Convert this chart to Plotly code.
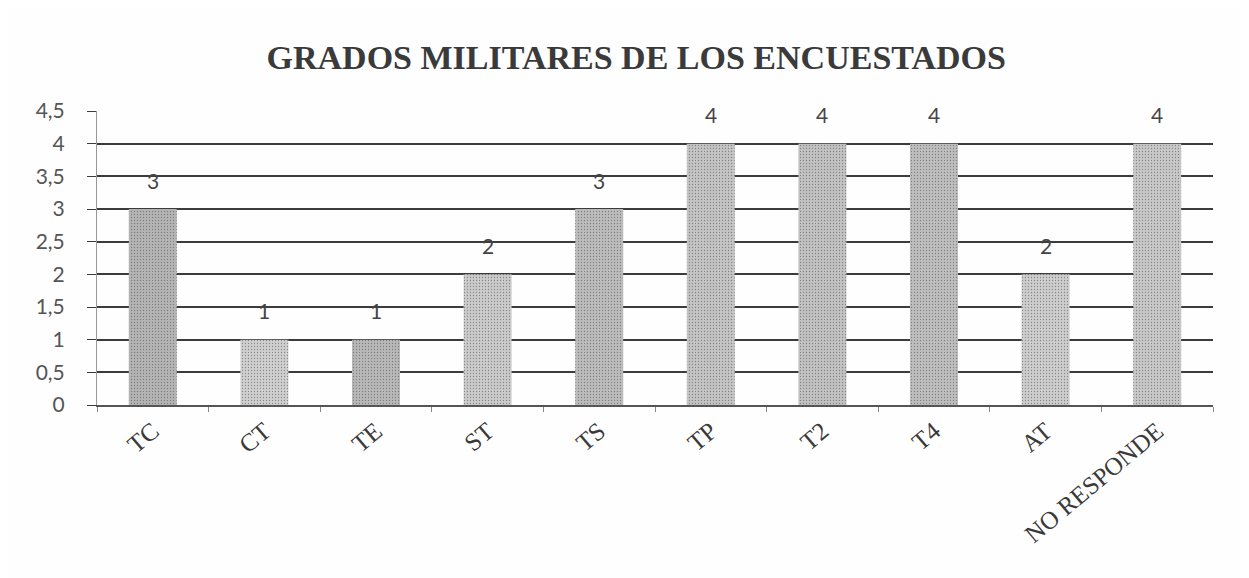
import plotly.graph_objects as go

grados = ["TC", "CT", "TE", "ST", "TS", "TP", "T2", "T4", "AT", "NO RESPONDE"]
encuestados = [3, 1, 1, 2, 3, 4, 4, 4, 2, 4]
bar_colors = ["#b4b4b4", "#cfcfcf", "#b8b8b8", "#cbcbcb", "#bcbcbc",
              "#c4c4c4", "#c2c2c2", "#bebebe", "#cdcdcd", "#c8c8c8"]

fig = go.Figure()
fig.add_trace(go.Bar(
    x=grados, y=encuestados,
    marker=dict(color=bar_colors, line=dict(width=0),
                pattern=dict(shape=".", fgcolor="#999999", size=3, solidity=0.15)),
    width=0.43,
))

# etiquetas de valor, un poco separadas de la barra como en el original
for g, v in zip(grados, encuestados):
    fig.add_annotation(x=g, y=v, text=str(v), showarrow=False, yshift=29,
                       font=dict(family="Lato", size=21, color="#444444"))

fig.update_layout(
    title=dict(text="<b>GRADOS MILITARES DE LOS ENCUESTADOS</b>", x=0.503, xanchor="center",
               y=0.915, yanchor="middle",
               font=dict(family="Liberation Serif", size=34, color="#3a3a3a")),
    separators=",.",
    width=1249, height=578,
    margin=dict(l=89, r=44, t=103, b=181),
    paper_bgcolor="#fefefe", plot_bgcolor="#fefefe",
    showlegend=False,
)
fig.update_xaxes(
    showline=True, linecolor="#555555", linewidth=1.5,
    ticks="outside", tickson="boundaries", ticklen=5, tickcolor="#888888",
    tickangle=-40, tickfont=dict(family="Liberation Serif", size=25, color="#3a3a3a"),
    showgrid=False,
)
fig.update_yaxes(
    range=[0, 4.5], dtick=0.5, tickformat=".1~f",
    showline=True, linecolor="#999999", linewidth=1,
    showgrid=True, gridcolor="#3c3c3c", gridwidth=1.5,
    ticks="outside", ticklen=9, tickcolor="#3c3c3c",
    ticklabelstandoff=18,
    tickfont=dict(family="Lato", size=21, color="#555555"),
    zeroline=False,
)

fig.write_html("out.html")
